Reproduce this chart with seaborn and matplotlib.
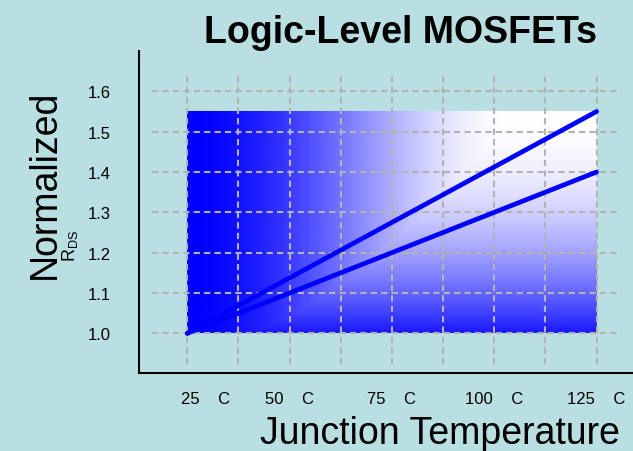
import numpy as np
import pandas as pd
import matplotlib
matplotlib.use("Agg")
import matplotlib.pyplot as plt
import matplotlib.transforms as mtransforms
import seaborn as sns

# ---- data ----
temps = [25, 125]                 # junction temperature (C)
rds_upper = [1.0, 1.55]           # normalized R_DS, upper curve
rds_lower = [1.0, 1.40]           # normalized R_DS, lower curve
y_ticks = [1.0, 1.1, 1.2, 1.3, 1.4, 1.5, 1.6]
y_tick_labels = ["1.0", "1.1", "1.2", "1.3", "1.4", "1.5", "1.6"]
x_ticks = [25, 50, 75, 100, 125]
x_tick_labels = ["25    C", "50    C", "75    C", "100    C", "125    C"]
x_grid = [25, 37.5, 50, 62.5, 75, 87.5, 100, 112.5, 125]
title = "Logic-Level MOSFETs"
xlabel = "Junction Temperature"
ylabel = "Normalized"

bg = "#b9dfe2"
sns.set_style("white")
plt.rcParams["font.family"] = ["Liberation Sans", "DejaVu Sans"]
plt.rcParams["mathtext.fontset"] = "custom"
plt.rcParams["mathtext.rm"] = "Liberation Sans"
plt.rcParams["text.color"] = "black"
plt.rcParams["xtick.color"] = "black"
plt.rcParams["ytick.color"] = "black"
plt.rcParams["xtick.labelcolor"] = "black"
plt.rcParams["ytick.labelcolor"] = "black"

fig = plt.figure(figsize=(6.33, 4.52), dpi=100, facecolor=bg)
ax = fig.add_axes([139 / 633, (452 - 374) / 452, (633 - 139) / 633, (374 - 52) / 452])
ax.set_facecolor(bg)

# gradient panel
x0, x1 = temps[0], temps[-1]
y0, y1 = rds_upper[0], rds_upper[-1]
gx = np.linspace(0, 1, 300)
gy = np.linspace(0, 1, 200)
GX, GY = np.meshgrid(gx, gy)
t = np.clip(GX * 100 / 80, 0, 1)
h = 3 * t**2 - 2 * t**3
v = 0.1 + 0.9 * (1 - (1 - GY) ** 2)
w = np.minimum(h, v)
img = np.dstack([w, w, np.ones_like(w)])
ax.imshow(img, extent=[x0, x1, y0, y1], origin="lower", aspect="auto",
          interpolation="bilinear", zorder=1)

# grid
gcol = "#b3b3b3"
ax.hlines(y_ticks, 16.3, 130.9, colors=gcol, linestyles=(0, (3, 2)), lw=1.5, zorder=2)
ax.vlines(x_grid, 0.924, 1.649, colors=gcol, linestyles=(0, (3, 2)), lw=1.5, zorder=2)

df = pd.DataFrame({"T": temps + temps,
                   "R": rds_upper + rds_lower,
                   "curve": ["upper"] * len(temps) + ["lower"] * len(temps)})
sns.lineplot(data=df, x="T", y="R", hue="curve", palette=["#0000ff", "#0000ff"],
             lw=3.4, legend=False, ax=ax, zorder=3)

ax.set_xlim(13.2, 133.9)
ax.set_ylim(0.9016, 1.70)
ax.set_xticks(x_ticks)
ax.set_xticklabels(x_tick_labels, fontsize=12)
ax.set_yticks(y_ticks)
ax.set_yticklabels(y_tick_labels, fontsize=12)
ax.tick_params(axis="y", length=0, pad=20)
ax.tick_params(axis="x", length=0, pad=13)
# first x tick label sits a little to the right in the reference
first = ax.get_xticklabels()[0]
first.set_transform(first.get_transform() +
                    mtransforms.ScaledTranslation(18 / 100, 0, fig.dpi_scale_trans))
ax.set_xlabel("")
ax.set_ylabel("")
for s in ["top", "right"]:
    ax.spines[s].set_visible(False)
for s in ["left", "bottom"]:
    ax.spines[s].set_color("black")
    ax.spines[s].set_linewidth(1.5)

fig.text(400 / 633, 1 - 43 / 452, title, ha="center", va="baseline",
         fontsize=27, fontweight="bold")
fig.text(440 / 633, 1 - 444 / 452, xlabel, ha="center", va="baseline", fontsize=27)
fig.text(45 / 633, 1 - 184.5 / 452, ylabel, rotation=90, ha="center", va="center",
         fontsize=27)
fig.text(70 / 633, 1 - 246 / 452, r"$\mathregular{R_{DS}}$", rotation=90,
         ha="center", va="center", fontsize=13)

fig.savefig("out.png", dpi=100, facecolor=bg)
